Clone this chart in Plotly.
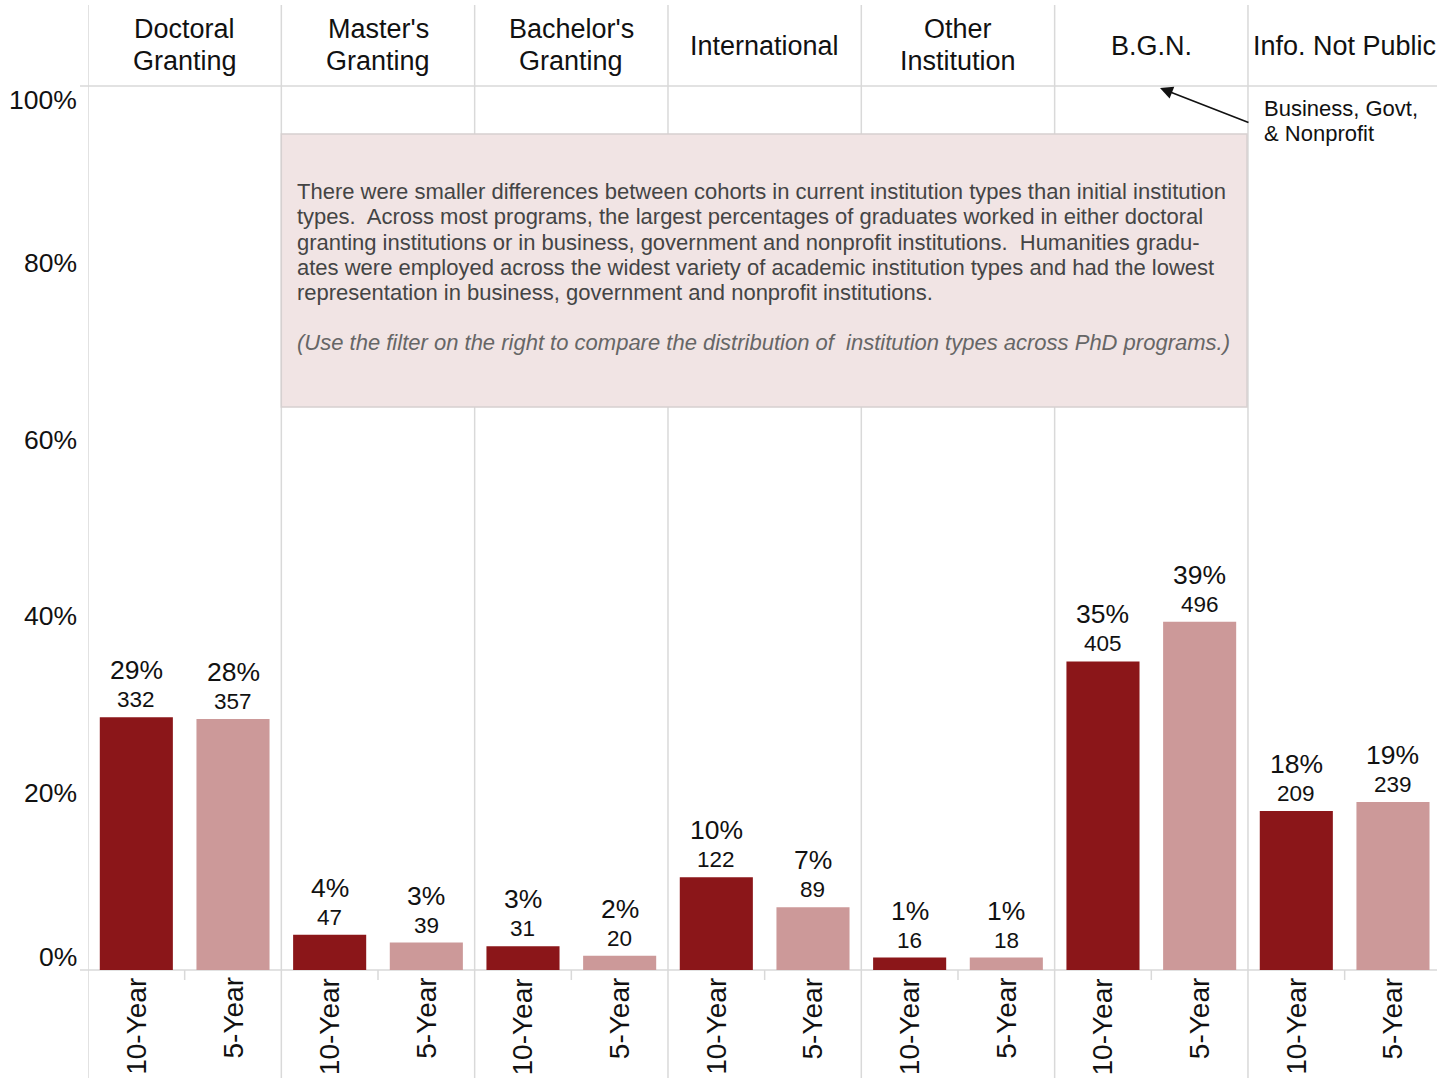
import plotly.graph_objects as go

# ---------------- data ----------------
categories = ["Doctoral<br>Granting", "Master's<br>Granting", "Bachelor's<br>Granting",
              "International", "Other<br>Institution", "B.G.N.", "Info. Not Public"]
cohorts = ["10-Year", "5-Year"]
pct_10yr = [28.6, 4.0, 2.7, 10.5, 1.4, 34.9, 18.0]
pct_5yr = [28.4, 3.1, 1.6, 7.1, 1.4, 39.4, 19.0]
count_10yr = [332, 47, 31, 122, 16, 405, 209]
count_5yr = [357, 39, 20, 89, 18, 496, 239]
y_ticks = [0, 20, 40, 60, 80, 100]
y_tick_text = ["0%", "20%", "40%", "60%", "80%", "100%"]

note_lines = [
    "There were smaller differences between cohorts in current institution types than initial institution",
    "types.  Across most programs, the largest percentages of graduates worked in either doctoral",
    "granting institutions or in business, government and nonprofit institutions.  Humanities gradu-",
    "ates were employed across the widest variety of academic institution types and had the lowest",
    "representation in business, government and nonprofit institutions.",
]
note_italic = "(Use the filter on the right to compare the distribution of  institution types across PhD programs.)"

# ---------------- style ----------------
FONT = "Arial, 'Liberation Sans', sans-serif"
DARK = "#8B1619"
LIGHT = "#CC9999"
GRID = "#d9d9d9"
W, H = 1437, 1078
L, T, B = 88, 86, 108
plot_h = H - T - B
COL_W = 193.33  # pixel width of one facet column (last column is clipped)


def py(pixel_y):
    return (H - B - pixel_y) / plot_h


def px(pixel_x):
    return (pixel_x - L) / (W - L)


n = len(categories)
off = 0.25
bw = 0.378
x10 = [i - off for i in range(n)]
x5 = [i + off for i in range(n)]
x_max = -0.5 + (W - L) / COL_W

fig = go.Figure()
fig.add_trace(go.Bar(x=x10, y=pct_10yr, width=bw, marker=dict(color=DARK, line=dict(width=0)),
                     name=cohorts[0], hoverinfo="skip"))
fig.add_trace(go.Bar(x=x5, y=pct_5yr, width=bw, marker=dict(color=LIGHT, line=dict(width=0)),
                     name=cohorts[1], hoverinfo="skip"))

shapes = []
for i in range(n):
    shapes.append(dict(type="line", xref="x", yref="paper", x0=i - 0.5, x1=i - 0.5,
                       y0=py(1078), y1=py(5), line=dict(color=GRID, width=1.5), layer="below"))
for yy in (py(86), 0):
    shapes.append(dict(type="line", xref="paper", yref="paper", x0=px(80), x1=1,
                       y0=yy, y1=yy, line=dict(color=GRID, width=1.5), layer="below"))
for i in range(n):
    shapes.append(dict(type="line", xref="x", yref="paper", x0=i, x1=i,
                       y0=0, y1=py(980), line=dict(color=GRID, width=1.5), layer="below"))
shapes.append(dict(type="rect", xref="x", yref="paper", x0=0.5, x1=5.495,
                   y0=py(407), y1=py(134), fillcolor="#f1e4e4",
                   line=dict(color="#d6d0d0", width=1.5), layer="above"))

ann = []
for i, c in enumerate(categories):
    lines = c.split("<br>")
    if len(lines) == 1:
        ys = [46]
    else:
        ys = [29, 61]
    for ln, yy in zip(lines, ys):
        ann.append(dict(x=i, y=py(yy), xref="x", yref="paper", text=ln, showarrow=False,
                        font=dict(size=27, color="#111", family=FONT), xanchor="center",
                        yanchor="middle"))
for v, t in zip(y_ticks, y_tick_text):
    shift = 13 if v == 0 else (-14 if v == 100 else 0)
    ann.append(dict(x=px(79), y=v, xref="paper", yref="y", text=t, showarrow=False,
                    font=dict(size=26.5, color="#111", family=FONT), xanchor="right", yanchor="middle",
                    yshift=shift))
for xs, ps, cs in ((x10, pct_10yr, count_10yr), (x5, pct_5yr, count_5yr)):
    for x, p, c in zip(xs, ps, cs):
        ann.append(dict(x=x, y=p, xref="x", yref="y", text=str(c), showarrow=False,
                        font=dict(size=22.5, color="#111", family=FONT), yanchor="bottom", yshift=3))
        ann.append(dict(x=x, y=p, xref="x", yref="y", text=f"{round(p):.0f}%", showarrow=False,
                        font=dict(size=26.5, color="#111", family=FONT), yanchor="bottom", yshift=30))
for i in range(n):
    for x, lab in ((x10[i], cohorts[0]), (x5[i], cohorts[1])):
        ann.append(dict(x=x, y=py(976), xref="x", yref="paper", text=lab, showarrow=False,
                        textangle=-90, font=dict(size=28, color="#111", family=FONT),
                        xanchor="center", yanchor="top"))
for k, line in enumerate(note_lines):
    ann.append(dict(x=px(295), y=py(191 + 25.5 * k), xref="paper", yref="paper", text=line,
                    showarrow=False, align="left", xanchor="left", yanchor="middle",
                    font=dict(size=22, color="#444", family=FONT)))
ann.append(dict(x=px(295), y=py(343), xref="paper", yref="paper",
                text="<i>" + note_italic + "</i>", showarrow=False, align="left",
                xanchor="left", yanchor="middle", font=dict(size=22, color="#666", family=FONT)))
ann.append(dict(x=px(1160), y=py(88), xref="paper", yref="paper", text="",
                showarrow=True, arrowhead=2, arrowsize=1.6, arrowwidth=1.6, arrowcolor="#111",
                ax=1250 - 1160, ay=123 - 88, axref="pixel", ayref="pixel"))
for k, line in enumerate(["Business, Govt,", "& Nonprofit"]):
    ann.append(dict(x=px(1262), y=py(108 + 25 * k), xref="paper", yref="paper",
                    text=line, showarrow=False, align="left",
                    xanchor="left", yanchor="middle", font=dict(size=22, color="#111", family=FONT)))

fig.update_layout(
    width=W, height=H,
    margin=dict(l=L, r=0, t=T, b=B, pad=0),
    paper_bgcolor="white", plot_bgcolor="white",
    showlegend=False, barmode="overlay",
    xaxis=dict(range=[-0.5, x_max], showgrid=False, zeroline=False, showticklabels=False,
               fixedrange=True),
    yaxis=dict(range=[0, 100], showgrid=False, zeroline=False, showticklabels=False,
               fixedrange=True),
    shapes=shapes, annotations=ann,
    font=dict(family=FONT),
)

fig.write_html("out.html", config={"displayModeBar": False},
               post_script="document.body.style.margin='0px';document.body.style.overflow='hidden';")
